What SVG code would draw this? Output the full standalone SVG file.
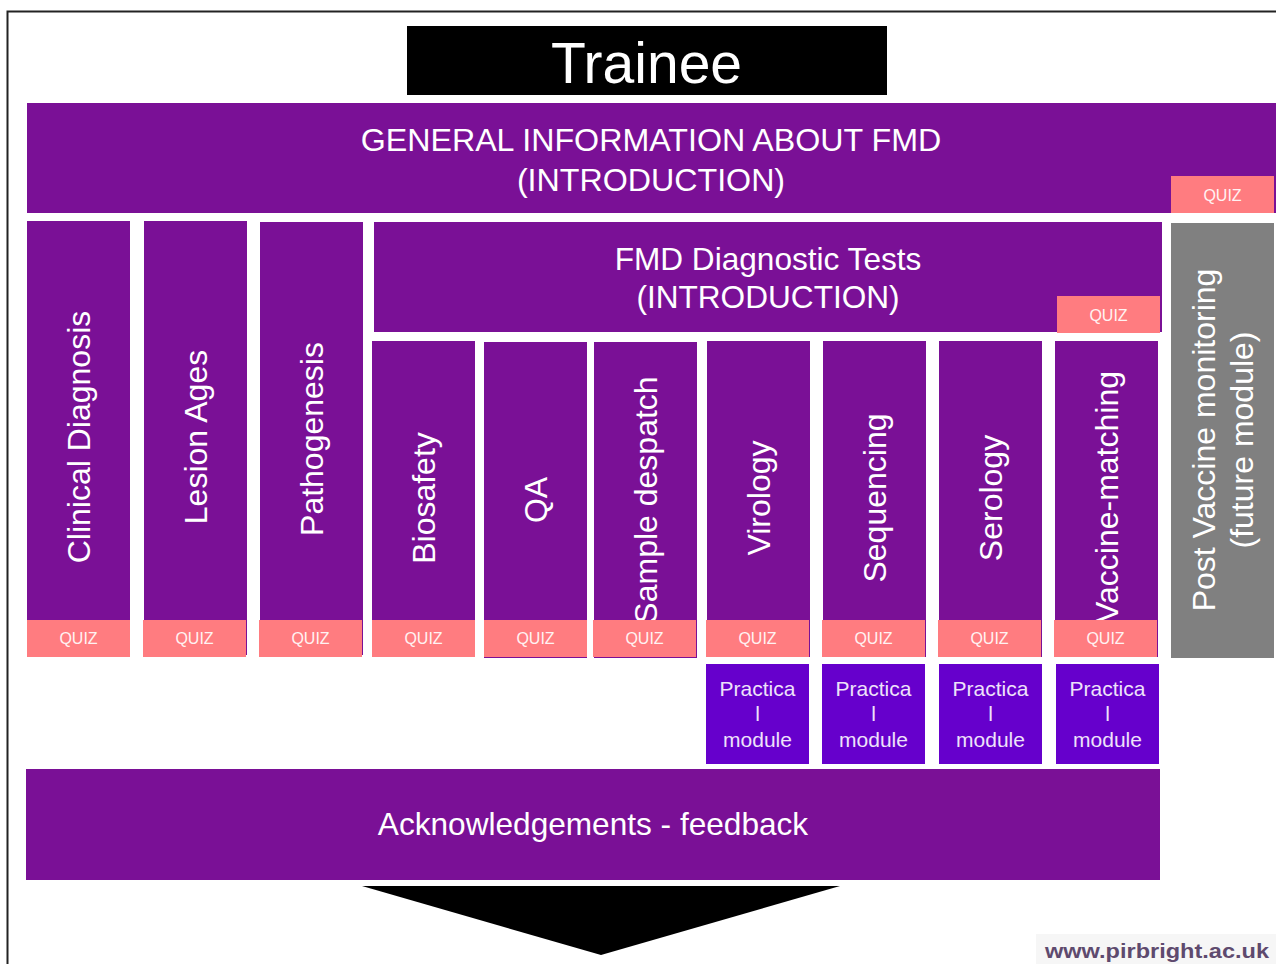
<svg xmlns="http://www.w3.org/2000/svg" width="1276" height="964" viewBox="0 0 1276 964">
<style>
.pu{fill:#7A1096}
.qz{fill:#FF7C80}
.pr{fill:#6600CC}
.gr{fill:#808080}
text{font-family:"Liberation Sans",Arial,sans-serif;fill:#FFFFFF;text-anchor:middle}
.big{font-size:31.6px}
.vt{font-size:32px}
.q{font-size:16px;fill:#FFF2F2}
.pm{font-size:21px;fill:#EEE2FA}
</style>
<rect x="0" y="0" width="1276" height="964" fill="#FFFFFF"/>
<path d="M1276 11.5 H7.5 V964" fill="none" stroke="#222" stroke-width="2"/>

<g id="trainee">
<rect x="407" y="26" width="480" height="69" fill="#000"/>
<text x="646.5" y="83" font-size="57">Trainee</text>
</g>

<g id="general-info">
<rect class="pu" x="27" y="103" width="1249" height="110"/>
<text x="651" y="151" font-size="32.2">GENERAL INFORMATION ABOUT FMD</text>
<text x="651" y="191" font-size="32.2">(INTRODUCTION)</text>
<rect class="qz" x="1171" y="176" width="103" height="37"/>
<text class="q" x="1222.5" y="201">QUIZ</text>
</g>

<g id="clinical-diagnosis">
<rect class="pu" x="27" y="221" width="103" height="436"/>
<text class="vt" transform="translate(90,437) rotate(-90)">Clinical Diagnosis</text>
<rect class="qz" x="27" y="620" width="103" height="37"/>
<text class="q" x="78.5" y="644">QUIZ</text>
</g>

<g id="lesion-ages">
<rect class="pu" x="144" y="221" width="103" height="434"/>
<text class="vt" transform="translate(207,437) rotate(-90)">Lesion Ages</text>
<rect class="qz" x="143" y="620" width="103" height="37"/>
<text class="q" x="194.5" y="644">QUIZ</text>
</g>

<g id="pathogenesis">
<rect class="pu" x="260" y="222" width="103" height="433"/>
<text class="vt" transform="translate(323,439) rotate(-90)">Pathogenesis</text>
<rect class="qz" x="259" y="620" width="103" height="37"/>
<text class="q" x="310.5" y="644">QUIZ</text>
</g>

<g id="fmd-diagnostic-tests">
<rect class="pu" x="374" y="222" width="788" height="110"/>
<text class="big" x="768" y="270">FMD Diagnostic Tests</text>
<text class="big" x="768" y="308">(INTRODUCTION)</text>
<rect class="qz" x="1057" y="296" width="103" height="37"/>
<text class="q" x="1108.5" y="321">QUIZ</text>
</g>

<g id="biosafety">
<rect class="pu" x="372" y="341" width="103" height="316"/>
<text class="vt" transform="translate(435,498) rotate(-90)">Biosafety</text>
<rect class="qz" x="372" y="620" width="103" height="37"/>
<text class="q" x="423.5" y="644">QUIZ</text>
</g>

<g id="qa">
<rect class="pu" x="484" y="342" width="103" height="316"/>
<text class="vt" transform="translate(547,500) rotate(-90)">QA</text>
<rect class="qz" x="484" y="620" width="103" height="37"/>
<text class="q" x="535.5" y="644">QUIZ</text>
</g>

<g id="sample-despatch">
<rect class="pu" x="594" y="342" width="103" height="316"/>
<text class="vt" transform="translate(657,500) rotate(-90)">Sample despatch</text>
<rect class="qz" x="593" y="620" width="103" height="37"/>
<text class="q" x="644.5" y="644">QUIZ</text>
</g>

<g id="virology">
<rect class="pu" x="707" y="341" width="103" height="316"/>
<text class="vt" transform="translate(770,498) rotate(-90)">Virology</text>
<rect class="qz" x="706" y="620" width="103" height="37"/>
<text class="q" x="757.5" y="644">QUIZ</text>
</g>

<g id="sequencing">
<rect class="pu" x="823" y="341" width="103" height="316"/>
<text class="vt" transform="translate(886,498) rotate(-90)">Sequencing</text>
<rect class="qz" x="822" y="620" width="103" height="37"/>
<text class="q" x="873.5" y="644">QUIZ</text>
</g>

<g id="serology">
<rect class="pu" x="939" y="341" width="103" height="316"/>
<text class="vt" transform="translate(1002,498) rotate(-90)">Serology</text>
<rect class="qz" x="938" y="620" width="103" height="37"/>
<text class="q" x="989.5" y="644">QUIZ</text>
</g>

<g id="vaccine-matching">
<rect class="pu" x="1055" y="341" width="103" height="316"/>
<text class="vt" transform="translate(1118,497) rotate(-90)">Vaccine-matching</text>
<rect class="qz" x="1054" y="620" width="103" height="37"/>
<text class="q" x="1105.5" y="644">QUIZ</text>
</g>

<g id="post-vaccine-monitoring">
<rect class="gr" x="1171" y="223" width="103" height="435"/>
<text class="vt" transform="translate(1215,440) rotate(-90)">Post Vaccine monitoring</text>
<text class="vt" transform="translate(1253,440) rotate(-90)">(future module)</text>
</g>

<g id="practical-virology">
<rect class="pr" x="706" y="664" width="103" height="100"/>
<text class="pm" x="757.5" y="696">Practica</text>
<text class="pm" x="757.5" y="721">l</text>
<text class="pm" x="757.5" y="747">module</text>
</g>
<g id="practical-sequencing">
<rect class="pr" x="822" y="664" width="103" height="100"/>
<text class="pm" x="873.5" y="696">Practica</text>
<text class="pm" x="873.5" y="721">l</text>
<text class="pm" x="873.5" y="747">module</text>
</g>
<g id="practical-serology">
<rect class="pr" x="939" y="664" width="103" height="100"/>
<text class="pm" x="990.5" y="696">Practica</text>
<text class="pm" x="990.5" y="721">l</text>
<text class="pm" x="990.5" y="747">module</text>
</g>
<g id="practical-vaccine-matching">
<rect class="pr" x="1056" y="664" width="103" height="100"/>
<text class="pm" x="1107.5" y="696">Practica</text>
<text class="pm" x="1107.5" y="721">l</text>
<text class="pm" x="1107.5" y="747">module</text>
</g>

<g id="acknowledgements">
<rect class="pu" x="26" y="769" width="1134" height="111"/>
<text x="593" y="835" font-size="31.6">Acknowledgements - feedback</text>
</g>

<g id="connectors">
<polygon points="362,886 840,886 601,955" fill="#000"/>
</g>

<g id="footer">
<rect x="1036" y="934" width="240" height="30" fill="#F6F6F6"/>
<text x="1157" y="958" font-size="21" font-weight="bold" textLength="224" lengthAdjust="spacingAndGlyphs" style="fill:#5E4A6E">www.pirbright.ac.uk</text>
</g>
</svg>
